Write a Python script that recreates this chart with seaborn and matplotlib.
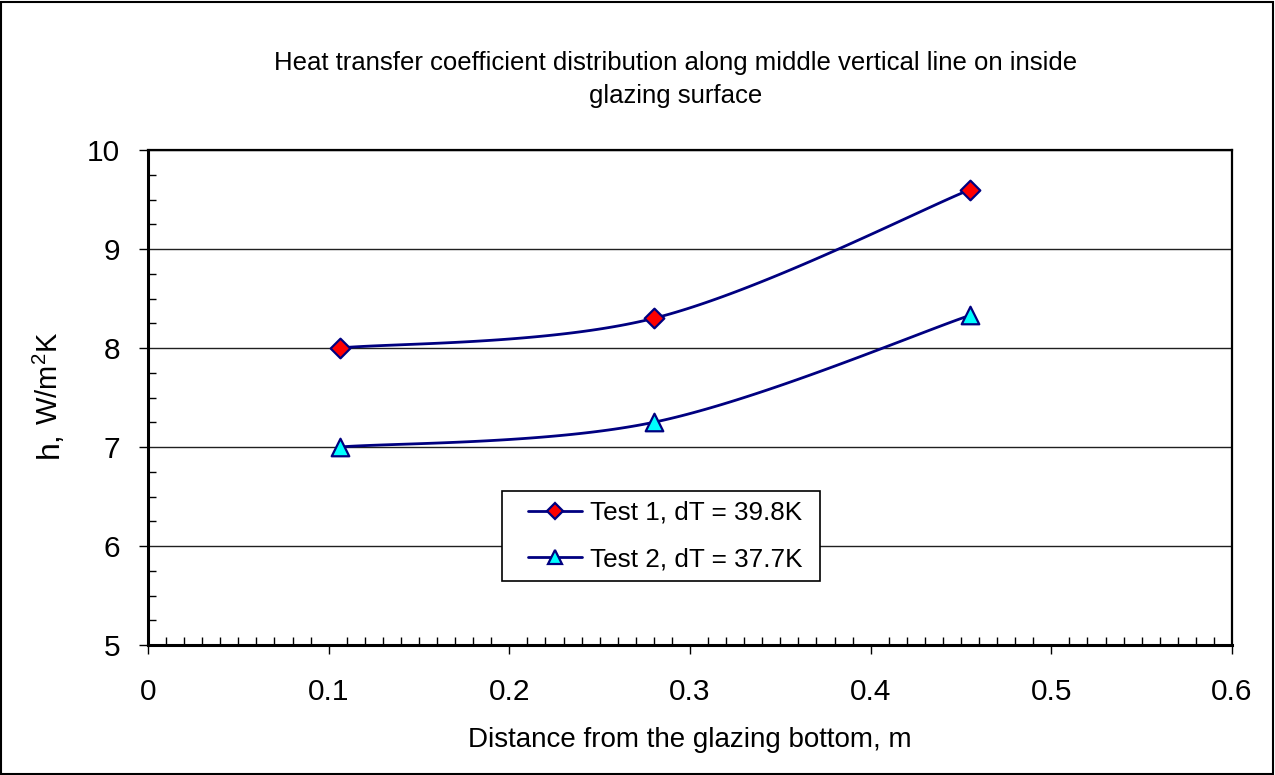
import numpy as np
import pandas as pd
import matplotlib
matplotlib.use("Agg")
import matplotlib.pyplot as plt
import seaborn as sns
from matplotlib.lines import Line2D
from matplotlib.legend_handler import HandlerLine2D
from matplotlib.patches import Rectangle
from matplotlib.ticker import MultipleLocator, FixedLocator, FixedFormatter

# ---- data -------------------------------------------------------------
distance = [0.106, 0.280, 0.455]          # m from the glazing bottom
h_test1 = [8.00, 8.30, 9.60]              # W/m2K
h_test2 = [7.00, 7.25, 8.33]              # W/m2K
series_labels = ["Test 1, dT = 39.8K", "Test 2, dT = 37.7K"]

x_ticks = [0.0, 0.1, 0.2, 0.3, 0.4, 0.5, 0.6]
x_tick_labels = ["0", "0.1", "0.2", "0.3", "0.4", "0.5", "0.6"]
y_ticks = [5, 6, 7, 8, 9, 10]
y_tick_labels = ["5", "6", "7", "8", "9", "10"]

title_text = ("Heat transfer coefficient distribution along middle vertical line on inside\n"
              "glazing surface")
x_label = "Distance from the glazing bottom, m"

LINE = "#000080"


def smooth_curve(x, y, n=60):
    """Spreadsheet-style smoothed line: cubic Bezier segments whose control
    points follow the neighbouring points (ends repeated)."""
    p = np.column_stack([x, y]).astype(float)
    ext = np.vstack([p[0], p, p[-1]])
    out = []
    t = np.linspace(0, 1, n)[:, None]
    for i in range(len(p) - 1):
        p0, p1 = ext[i + 1], ext[i + 2]
        c1 = p0 + (ext[i + 2] - ext[i]) / 6.0
        c2 = p1 - (ext[i + 3] - ext[i + 1]) / 6.0
        seg = ((1 - t) ** 3) * p0 + 3 * ((1 - t) ** 2) * t * c1 \
            + 3 * (1 - t) * t ** 2 * c2 + t ** 3 * p1
        out.append(seg if i == 0 else seg[1:])
    s = np.vstack(out)
    return s[:, 0], s[:, 1]


class ShiftedLineHandler(HandlerLine2D):
    """Legend handle drawn on the right part of the handle box."""
    def __init__(self, shift, **kw):
        super().__init__(**kw)
        self.shift = shift

    def create_artists(self, legend, orig_handle, xdescent, ydescent,
                       width, height, fontsize, trans):
        s = self.shift * fontsize
        return super().create_artists(legend, orig_handle, xdescent - s, ydescent,
                                      width - s, height, fontsize, trans)


sns.set_theme(style="white")
plt.rcParams["font.family"] = ["Liberation Sans", "DejaVu Sans"]
plt.rcParams["mathtext.fontset"] = "custom"
plt.rcParams["mathtext.rm"] = "Liberation Sans"
plt.rcParams["mathtext.it"] = "Liberation Sans"

W, H = 1275, 775
fig = plt.figure(figsize=(W / 100, H / 100), dpi=100)
fig.patch.set_facecolor("white")
ax = fig.add_axes([148 / W, 1 - 645 / H, (1232 - 148) / W, 495 / H])
ax.set_facecolor("white")

# smoothed lines
curves = []
for lab, ys in zip(series_labels, [h_test1, h_test2]):
    sx, sy = smooth_curve(distance, ys)
    curves.append(pd.DataFrame({"x": sx, "y": sy, "series": lab}))
curve_df = pd.concat(curves, ignore_index=True)
sns.lineplot(data=curve_df, x="x", y="y", units="series", estimator=None,
             sort=False, color=LINE, lw=2.0, ax=ax, legend=False, zorder=3)

# markers at measured points
pts1 = pd.DataFrame({"x": distance, "y": h_test1})
pts2 = pd.DataFrame({"x": distance, "y": h_test2})
sns.scatterplot(data=pts1, x="x", y="y", marker="D", s=100, color="#ff0000",
                edgecolor=LINE, linewidth=1.6, ax=ax, zorder=4, legend=False)
sns.scatterplot(data=pts2, x="x", y="y", marker="^", s=160, color="#00ffff",
                edgecolor=LINE, linewidth=1.6, ax=ax, zorder=4, legend=False)

# axes limits, ticks
ax.set_xlim(0, 0.6)
ax.set_ylim(5, 10)
ax.xaxis.set_major_locator(FixedLocator(x_ticks))
ax.xaxis.set_major_formatter(FixedFormatter(x_tick_labels))
ax.yaxis.set_major_locator(FixedLocator(y_ticks))
ax.yaxis.set_major_formatter(FixedFormatter(y_tick_labels))
ax.xaxis.set_minor_locator(MultipleLocator(0.01))
ax.yaxis.set_minor_locator(MultipleLocator(0.25))

ax.tick_params(which="major", direction="out", length=6.5, width=1.0,
               color="black", labelsize=21.5, labelcolor="black",
               bottom=True, left=True)
ax.tick_params(axis="x", which="major", pad=17.5)
ax.tick_params(axis="y", which="major", pad=13.5)
ax.tick_params(which="minor", direction="in", length=5.5, width=1.0,
               color="black", bottom=True, left=True)

ax.grid(axis="y", which="major", color="#202020", lw=1.0)
ax.grid(axis="x", visible=False)
ax.set_axisbelow(True)

for side in ["left", "bottom"]:
    ax.spines[side].set_color("black")
    ax.spines[side].set_linewidth(2.2)
for side in ["top", "right"]:
    ax.spines[side].set_color("black")
    ax.spines[side].set_linewidth(1.6)

ax.set_xlabel(x_label, fontsize=20, color="black")
ax.xaxis.set_label_coords(0.5, -0.166)
ax.xaxis.label.set_va("top")
ax.set_ylabel("")

# y-axis label in two sizes
fig.text(58 / W, 1 - 458 / H, "h,", rotation=90, rotation_mode="anchor",
         ha="left", va="baseline", fontsize=23, color="black")
fig.text(58 / W, 1 - 425 / H, "W/m$^2$K", rotation=90, rotation_mode="anchor",
         ha="left", va="baseline", fontsize=21, color="black")

# title
fig.text(676 / W, 1 - 79.5 / H, title_text, ha="center", va="center",
         fontsize=18.5, linespacing=1.45, color="black")

# legend
handles = [
    Line2D([], [], color=LINE, lw=2.0, marker="D", markersize=8,
           markerfacecolor="#ff0000", markeredgecolor=LINE, markeredgewidth=1.6),
    Line2D([], [], color=LINE, lw=2.0, marker="^", markersize=10,
           markerfacecolor="#00ffff", markeredgecolor=LINE, markeredgewidth=1.6),
]
leg = fig.legend(handles, [lab + " " for lab in series_labels],
                 loc="upper left", bbox_to_anchor=(502 / W, 1 - 491 / H),
                 fontsize=18.8, frameon=True, fancybox=False, framealpha=1,
                 edgecolor="black", borderpad=0.38, labelspacing=0.85,
                 handlelength=2.7, handletextpad=0.3, borderaxespad=0,
                 handler_map={handles[0]: ShiftedLineHandler(0.62, numpoints=1),
                              handles[1]: ShiftedLineHandler(0.62, numpoints=1)})
leg.get_frame().set_linewidth(1.2)
for t in leg.get_texts():
    t.set_color("black")

# outer chart border
fig.patches.append(Rectangle((1 / W, 1 / H), 1 - 3 / W, 1 - 3 / H,
                             transform=fig.transFigure, fill=False,
                             edgecolor="black", lw=1.5))

fig.savefig("out.png", dpi=100, facecolor="white")
